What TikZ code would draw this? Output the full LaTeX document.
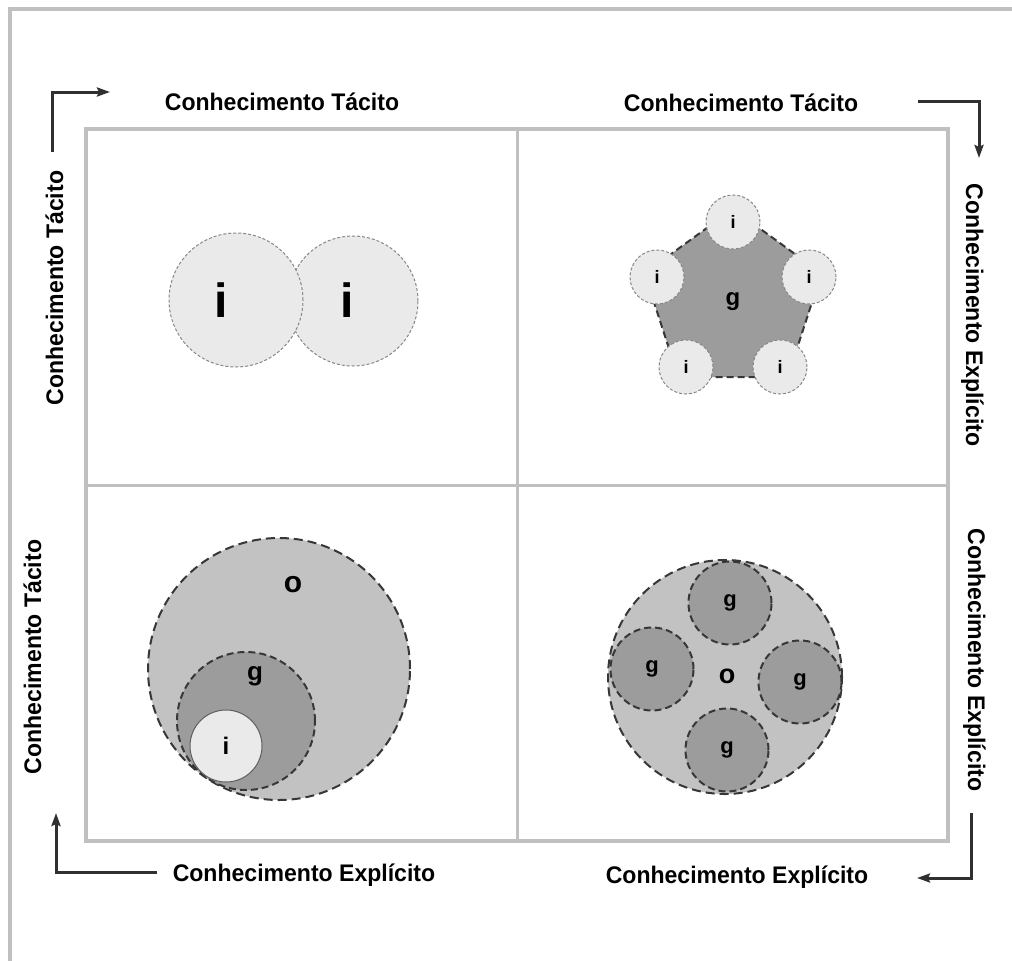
\documentclass[tikz,border=0pt]{standalone}
\usepackage{fontspec}
\setmainfont{Liberation Sans}
\usetikzlibrary{arrows.meta, shapes.geometric}
\definecolor{framegray}{RGB}{192,192,192}
\definecolor{ifill}{RGB}{234,234,234}
\definecolor{ofill}{RGB}{194,194,194}
\definecolor{gfill}{RGB}{156,156,156}
\definecolor{edgegray}{RGB}{55,55,55}
\definecolor{idash}{RGB}{135,135,135}
\definecolor{arrowgray}{RGB}{48,48,48}

\begin{document}
\begin{tikzpicture}[x=1pt, y=-1pt,
    axislabel/.style={font=\bfseries\fontsize{24}{28}\selectfont, xscale=0.96, inner sep=0, anchor=base},
    letter/.style={font=\bfseries\fontsize{#1}{#1}\selectfont},
    icirc/.style={circle, inner sep=0, fill=ifill, draw=idash, line width=1pt, dash pattern=on 3pt off 2pt},
    gcirc/.style={circle, inner sep=0, fill=gfill, draw=edgegray, line width=2pt, dash pattern=on 7pt off 4pt},
    ocirc/.style={circle, inner sep=0, fill=ofill, draw=edgegray, line width=2pt, dash pattern=on 9pt off 5pt},
    turn/.style={arrowgray, line width=3pt, -{Stealth[length=13pt, width=9pt, inset=2pt]}}]
    \useasboundingbox (0,0) rectangle (1012,961);

    % Frame and quadrants
    \draw[framegray, line width=4pt] (1012,9) -- (10,9) -- (10,961);
    \draw[framegray, line width=4.5pt] (86,129) rectangle (948,841);
    \draw[framegray, line width=3pt] (517,129) -- (517,841) (86,485) -- (948,485);

    % Axis labels
    \node[axislabel] (top-l) at (282,110) {Conhecimento Tácito};
    \node[axislabel] (top-r) at (741,111) {Conhecimento Tácito};
    \node[axislabel] (bot-l) at (304,881) {Conhecimento Explícito};
    \node[axislabel] (bot-r) at (737,883) {Conhecimento Explícito};
    \node[rotate=90, axislabel] (left-t) at (63,288) {Conhecimento Tácito};
    \node[rotate=90, axislabel] (left-b) at (41,657) {Conhecimento Tácito};
    \node[rotate=-90, axislabel] (right-t) at (966,315) {Conhecimento Explícito};
    \node[rotate=-90, axislabel] (right-b) at (968,660) {Conhecimento Explícito};

    % Corner arrows
    \coordinate (tl-a) at (52,152);  \coordinate (tl-b) at (110,92);
    \coordinate (tr-a) at (918,101); \coordinate (tr-b) at (979,158);
    \coordinate (bl-a) at (157,872); \coordinate (bl-b) at (56,813);
    \coordinate (br-a) at (971,813); \coordinate (br-b) at (917,878);
    \draw[turn] (tl-a) |- (tl-b);
    \draw[turn] (tr-a) -| (tr-b);
    \draw[turn] (bl-a) -| (bl-b);
    \draw[turn] (br-a) |- (br-b);

    % Top left: two individuals
    \node[icirc, minimum size=130pt] (i2) at (353,301) {};
    \node[icirc, minimum size=134pt] (i1) at (236,300) {};
    \node[letter=48] (i1-lab) at (221,300) {i};
    \node[letter=48] (i2-lab) at (347,300) {i};

    % Top right: group with five individuals
    \node[regular polygon, regular polygon sides=5, minimum size=186pt, rounded corners=30pt,
          fill=gfill, draw=edgegray, line width=2pt, dash pattern=on 7pt off 4pt,
          letter=24, inner sep=0] (g1) at (733,302) {g};
    \foreach \px/\py [count=\k] in {733/222, 657/277, 686/367, 780/367, 809/277}
      \node[icirc, minimum size=54pt, letter=18] (ti\k) at (\px,\py) {i};

    % Bottom left: organisation, group, individual
    \node[ocirc, minimum size=262pt] (o1) at (279,669) {};
    \node[letter=30] (o1-lab) at (293,585) {o};
    \node[gcirc, minimum size=138pt] (g2) at (246,721) {};
    \node[letter=26] (g2-lab) at (255,676) {g};
    \node[circle, inner sep=0, minimum size=72pt, fill=ifill, draw=edgegray!80, line width=1pt, letter=24] (i3) at (226,746) {i};

    % Bottom right: organisation with four groups
    \node[ocirc, minimum size=234pt] (o2) at (725,677) {};
    \node[letter=27] (o2-lab) at (727,676) {o};
    \foreach \px/\py [count=\k] in {730/603, 652/669, 800/682, 727/750}
      \node[gcirc, minimum size=83pt, letter=22] (bg\k) at (\px,\py) {g};
\end{tikzpicture}
\end{document}
